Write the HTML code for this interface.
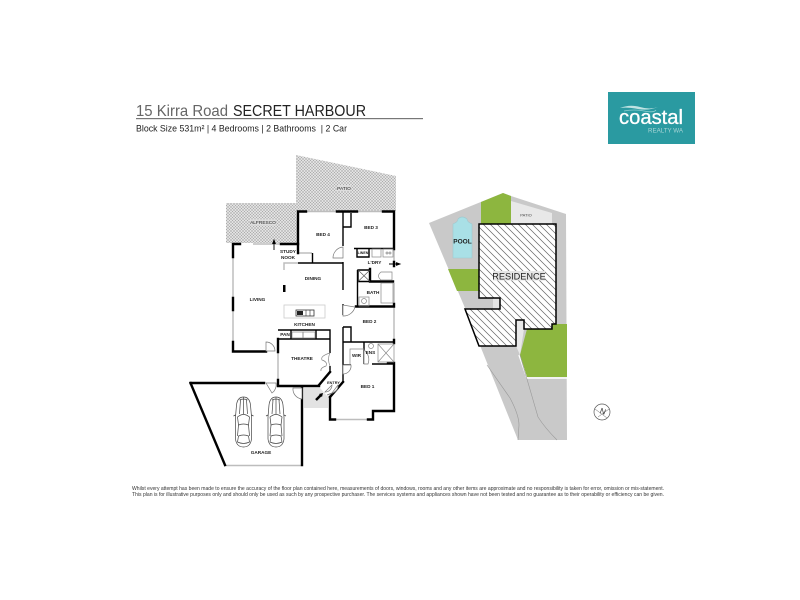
<!DOCTYPE html>
<html><head><meta charset="utf-8"><style>
html,body{margin:0;padding:0;background:#fff}
svg{display:block}
text{font-family:"Liberation Sans",sans-serif}
.r{font-size:4.700px;fill:#222;text-anchor:middle;font-weight:bold}
</style></head><body>
<svg width="800" height="600" viewBox="0 0 800 600" xmlns="http://www.w3.org/2000/svg">
<defs>
<pattern id="x" width="3" height="3" patternUnits="userSpaceOnUse">
<rect width="3" height="3" fill="#e2e2e2"/><path d="M0 0L3 3M3 0L0 3" stroke="#aaa" stroke-width=".5"/>
</pattern>
<pattern id="h" width="7" height="7" patternUnits="userSpaceOnUse">
<rect width="7" height="7" fill="#fff"/><path d="M-1 -1L8 8M-1 6L1 8M6 -1L8 1" stroke="#666" stroke-width=".7"/>
</pattern>
<g id="car" fill="none" stroke="#444" stroke-width=".7">
<path d="M2 8Q3 0 9 0Q15 0 16 8L17 20L17 42Q16 50 9 50Q2 50 1 42L1 20Z" fill="#fff"/>
<path d="M3 20Q9 15 15 20L14 28Q9 26 4 28Z"/>
<path d="M4 39Q9 37 14 39L15 45Q9 48 3 45Z"/>
<path d="M5 3Q9 1 13 3M6 3L5 17M12 3L13 17M9 0V17M1 18L-1 19M17 18L19 19M4 28L3 39M14 28L15 39"/>
</g>
</defs>

<rect width="800" height="600" fill="#fff"/>

<!-- title -->
<text x="136" y="116" font-size="16" fill="#666" textLength="92" lengthAdjust="spacingAndGlyphs">15 Kirra Road</text>
<text x="233" y="116" font-size="16" fill="#222" textLength="133" lengthAdjust="spacingAndGlyphs">SECRET HARBOUR</text>
<rect x="136" y="118" width="287" height="1.200" fill="#777"/>
<text x="136" y="131.500" font-size="9.500" fill="#222" textLength="211" lengthAdjust="spacingAndGlyphs" xml:space="preserve">Block Size 531m² | 4 Bedrooms | 2 Bathrooms  | 2 Car</text>

<!-- logo -->
<rect x="608" y="92" width="87" height="52" fill="#2a9aa1"/>
<path d="M620 108Q630 104 640 107T658 107Q648 111 638 109T620 108Z" fill="#bfe3e3"/>
<path d="M624 111Q634 109 644 111T656 110" fill="none" stroke="#8fd0d0" stroke-width=".8"/>
<text x="619" y="124" font-size="20" fill="#fff" stroke="#fff" stroke-width=".3" textLength="64" lengthAdjust="spacingAndGlyphs">coastal</text>
<text x="648" y="132.500" font-size="6" fill="#a8d5d6" textLength="35" lengthAdjust="spacingAndGlyphs">REALTY WA</text>

<!-- hatched outdoor -->
<polygon points="296,155 396,176 396,211 296,211" fill="url(#x)"/>
<polygon points="226,203 296,203 298,243 226,243" fill="url(#x)"/>
<rect x="337" y="185" width="14" height="6" fill="#ddd"/>
<text x="344" y="190" font-size="4.800" fill="#222" text-anchor="middle">PATIO</text>
<rect x="250" y="219.500" width="26" height="6" fill="#ddd"/>
<text x="263" y="224" font-size="4.800" fill="#222" text-anchor="middle">ALFRESCO</text>

<!-- entry portico -->
<polygon points="304,388 320,388 328,397 328,408 304,408" fill="#e2e2e2"/>

<!-- gray windows / light walls -->
<g fill="none" stroke="#bdbdbd" stroke-width="1.500">
<path d="M233 257V298M233 310V342M253 244H281M306 211.500H337M357 211.500H383M278 352V380M335 419.500H368M225 465.500H301M394 249V262M394 307V340M394 283V306M284 270V263H298M298 253H312"/>
</g>
<rect x="284" y="305" width="41" height="13" fill="#fff" stroke="#ccc" stroke-width=".8"/>
<rect x="296" y="310" width="18" height="6" fill="#fff" stroke="#333" stroke-width=".8"/>
<rect x="297" y="311" width="6" height="4" fill="#222"/>
<path d="M306 310V316M310 310V316" stroke="#333" stroke-width=".6"/>

<!-- thick walls -->
<g fill="none" stroke="#000" stroke-width="2.400" stroke-linecap="square">
<path d="M298 253V211.500H306M337 211.500H357M383 211.500H394V249"/>
<path d="M281 244H298"/>
<path d="M233 257V244H240"/>
<path d="M233 298V310M233 342V351.500H266"/>
<path d="M190.500 383H264M190.500 383L225 465"/>
<path d="M302 465V388"/>
<path d="M278 352V339M278 380V386H319"/>
<path d="M330 397V419.500H335M368 419.500H373V411H394V363H388"/>
<path d="M343 382L330 397"/>
<path d="M319 385L330 372"/>
<path d="M370 269V281.500H393"/>
<path d="M394 262V266M394 304V306M356 306.500H394M394 340V343"/>
</g>
<g fill="none" stroke="#000" stroke-width="1.400">
<path d="M298 263H343M343 211V246M343 262V290M343 304V315M343 327V382"/>
<path d="M343 227H351V213"/>
<path d="M312.500 263V253"/>
<path d="M343 342H394M364 342V364M372 364H394M343 365H351"/>
<path d="M343 327H351V342"/>
<path d="M278 339H330V353M330 366V372M278 330H330V339M291 330V339M316 330V339"/>
<path d="M354 248.500H394M357 248.500V257H369V248.500M358 270H370V281.500H358ZM357.500 270V306"/>
<path d="M358 270L370 281.500M370 270L358 281.500" stroke="#555" stroke-width=".6"/>
</g>
<rect x="283" y="285" width="2.500" height="7" fill="#000"/>

<!-- fixtures -->
<g fill="none" stroke="#888" stroke-width=".7">
<rect x="372" y="249" width="9" height="8"/><rect x="383" y="249" width="10" height="8"/>
<circle cx="387" cy="253" r="1"/><circle cx="390" cy="253" r="1"/>
<rect x="381" y="283" width="12" height="20"/>
<rect x="359" y="297" width="10" height="9"/><circle cx="364" cy="301" r="2.500"/>
<path d="M381 272H392V280H381Q376 276 381 272Z"/>
<rect x="378" y="344" width="16" height="18"/>
<path d="M378 344L394 362M394 344L378 362"/>
<circle cx="371" cy="346" r="2.500"/>
<path d="M350 365V349H364"/>
<rect x="303" y="332" width="12" height="6"/>
<rect x="292" y="332" width="11" height="6"/>
</g>
<!-- doors -->
<g fill="#fff" stroke="#777" stroke-width=".7">
<path d="M333 258H343V247A11 11 0 0 0 333 258Z"/>
<path d="M266 351V342A9 9 0 0 1 275 351Z"/>
<path d="M266 383H276A10 10 0 0 1 272 393Z"/>
<path d="M293 388H302V399A10 10 0 0 1 293 388Z"/>
<path d="M343 365H351A8 8 0 0 1 343 374Z"/>
<path d="M343 305V316A12 12 0 0 0 355 307Z"/>
<path d="M364 350A12 12 0 0 1 368 364H364Z"/>
<path d="M325 392L332 385A7 7 0 0 1 325 392Z"/>
<path d="M327 395Q339 392 338 385L332 393Z"/>
</g>
<path d="M330 353Q320 356 322 360Q328 362 326 366Q320 368 321 371M330 366Q327 359 330 353" fill="#fff" stroke="#888" stroke-width=".7"/>

<!-- arrows -->
<path d="M274 250V241M272.500 244L274 240L275.500 244" fill="#000" stroke="#000" stroke-width=".9"/>
<path d="M389 264H399M396 262.500L400 264L396 265.500" fill="#000" stroke="#000" stroke-width=".9"/>
<path d="M316 400L321 395" stroke="#000" stroke-width="2.500"/>
<polygon points="323,393 319,394 322,397" fill="#000"/>

<!-- cars -->
<use href="#car" x="234.500" y="397"/>
<use href="#car" x="267" y="397"/>

<!-- room labels -->
<text class="r" x="323" y="236">BED 4</text>
<text class="r" x="371" y="229">BED 3</text>
<text class="r" x="288" y="253">STUDY</text>
<text class="r" x="288" y="259">NOOK</text>
<text class="r" x="363" y="254" style="font-size:3.600px">LINEN</text>
<text class="r" x="374.500" y="264">L'DRY</text>
<text class="r" x="313" y="280">DINING</text>
<text class="r" x="257.500" y="301">LIVING</text>
<text class="r" x="373" y="294">BATH</text>
<text class="r" x="369.500" y="323">BED 2</text>
<text class="r" x="304.500" y="326">KITCHEN</text>
<text class="r" x="285" y="336">PAN</text>
<text class="r" x="302" y="360">THEATRE</text>
<text class="r" x="356.500" y="357">WIR</text>
<text class="r" x="370.500" y="354">ENS</text>
<text class="r" x="367.500" y="388">BED 1</text>
<text class="r" x="333.500" y="384" style="font-size:3.800px">ENTRY</text>
<text class="r" x="261" y="454">GARAGE</text>

<!-- site plan -->
<polygon points="429,223 503,193 511,196 566,214 567,440 518,440 465,308" fill="#c9c9c9"/>
<polygon points="481,202 503,193 511,196 511,224 481,224" fill="#8db63f"/>
<polygon points="511,201 552,213 552,224 511,224" fill="#e8e8e8"/>
<polygon points="448,269 479,269 479,291 457,291" fill="#8db63f"/>
<polygon points="493,298 500,298 500,309 493,309" fill="#e4e4e4"/>
<polygon points="524,329 516,346 520,355" fill="#e8e8e8"/>
<polygon points="516,320 524,320 524,330 516,346" fill="#e8e8e8"/>
<polyline points="519,355 527,378 567,378" fill="none" stroke="#fff" stroke-width="1.500"/>
<polygon points="527,329 552,329 552,324 567,324 567,377 527,377 520,355" fill="#8db63f"/>
<path d="M487 365L510 398Q519 415 519 425L518 440M520 355L538 417Q545 428 557 440" fill="none" stroke="#999" stroke-width=".6"/>
<path d="M453 258V224Q458 222 458 219Q462 215 467 219Q467 222 472 224V258Z" fill="#a9e0e6" stroke="#9fc9cf" stroke-width=".6"/>
<text x="462.500" y="243.500" font-size="6.500" font-weight="bold" fill="#222" text-anchor="middle">POOL</text>
<polygon points="479,224 556,224 556,324 552,324 552,329 524,329 524,320 516,320 516,346 479,346 465,309 500,309 500,298 479,298" fill="url(#h)" stroke="#000" stroke-width="1.500"/>
<rect x="493" y="271" width="52" height="9.500" fill="#e6e6e6"/>
<text x="519" y="279.500" font-size="9.200" fill="#222" text-anchor="middle">RESIDENCE</text>
<text x="526" y="216.500" font-size="4" fill="#444" text-anchor="middle">PATIO</text>

<!-- compass -->
<circle cx="602" cy="412" r="8" fill="#fff" stroke="#555" stroke-width=".7"/>
<path d="M595 409L607 418M598 417L609 409" stroke="#666" stroke-width=".5" fill="none"/>
<text x="603" y="414" font-size="8" fill="#333" text-anchor="middle" transform="rotate(20 603 411)">N</text>

<!-- disclaimer -->
<text x="132" y="490" font-size="5.100" fill="#333" textLength="532" lengthAdjust="spacingAndGlyphs">Whilst every attempt has been made to ensure the accuracy of the floor plan contained here, measurements of doors, windows, rooms and any other items are approximate and no responsibility is taken for error, omission or mis-statement.</text>
<text x="132" y="496" font-size="5.100" fill="#333" textLength="532" lengthAdjust="spacingAndGlyphs">This plan is for illustrative purposes only and should only be used as such by any prospective purchaser. The services systems and appliances shown have not been tested and no guarantee as to their operability or efficiency can be given.</text>
</svg>
</body></html>
